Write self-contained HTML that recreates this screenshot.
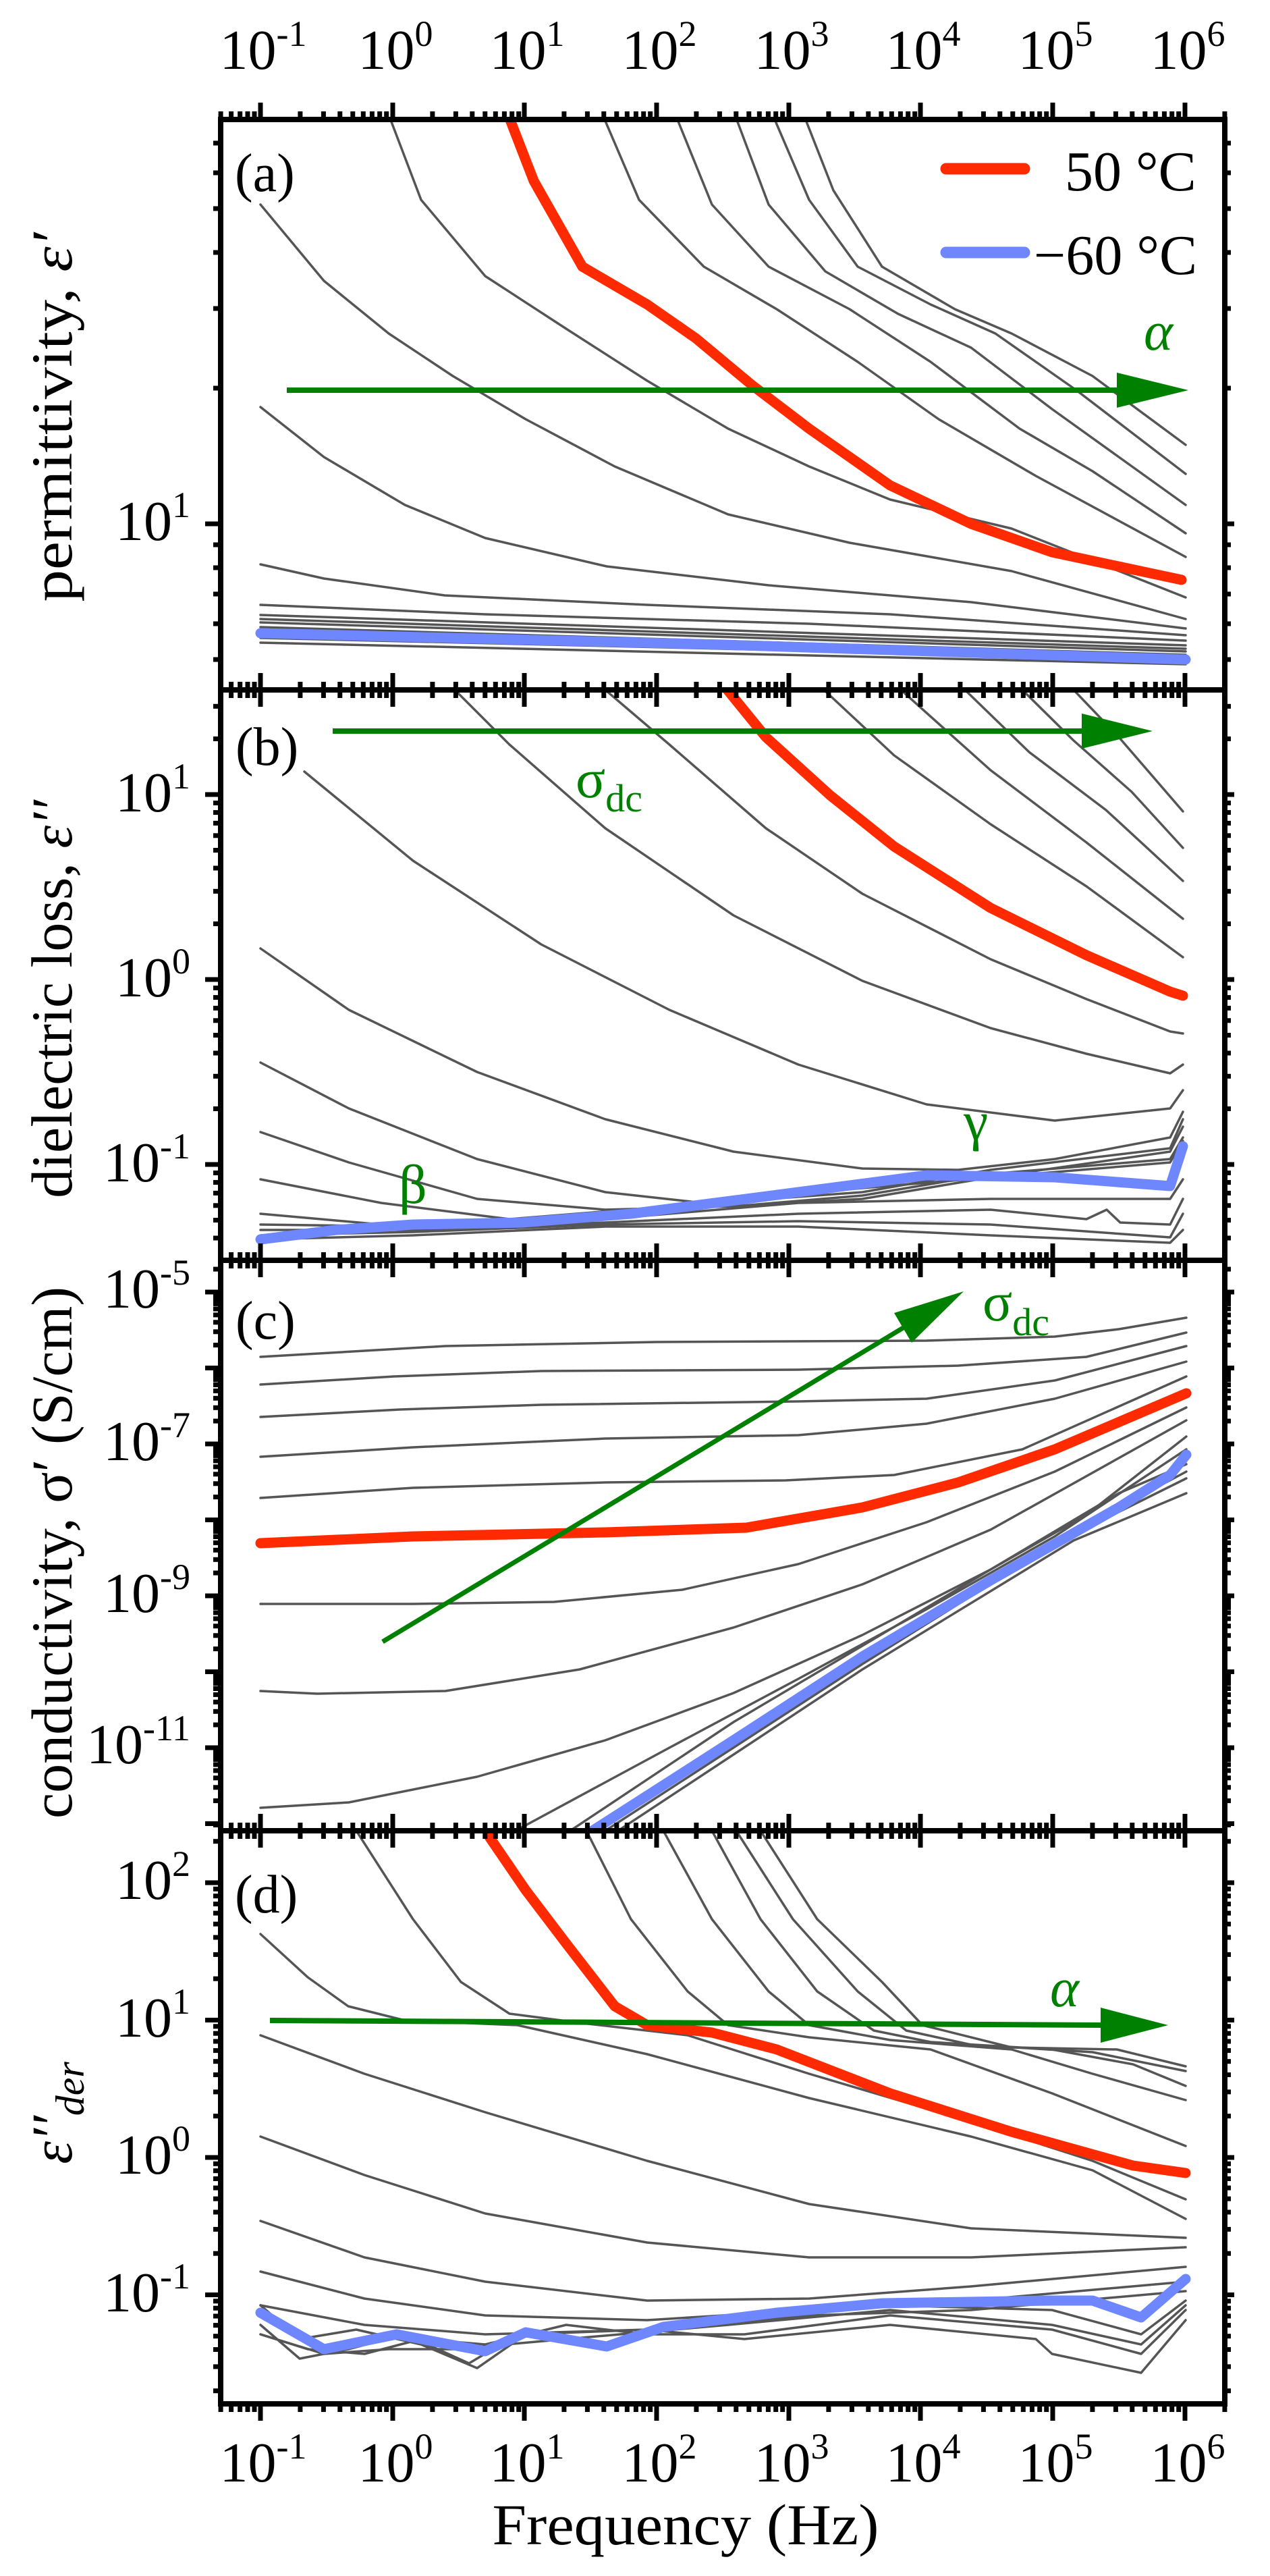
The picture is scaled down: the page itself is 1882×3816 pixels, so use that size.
<!DOCTYPE html>
<html><head><meta charset="utf-8">
<style>
html,body{margin:0;padding:0;background:#fff}
svg{display:block}
text{font-family:"Liberation Serif",serif}
.g{fill:none;stroke:#555;stroke-width:3.5;stroke-linejoin:round;stroke-linecap:round}
.r{fill:none;stroke:#ff2a00;stroke-width:15;stroke-linejoin:round;stroke-linecap:round}
.bl{fill:none;stroke:#6e87ff;stroke-width:15;stroke-linejoin:round;stroke-linecap:round}
.t line{stroke:#000;stroke-width:7}
</style></head>
<body>
<svg width="1882" height="3816" viewBox="0 0 1882 3816" xmlns="http://www.w3.org/2000/svg" xmlns:xlink="http://www.w3.org/1999/xlink">
<defs>
<clipPath id="ca"><rect x="327" y="177" width="1488" height="845"/></clipPath>
<clipPath id="cb"><rect x="327" y="1022" width="1488" height="845"/></clipPath>
<clipPath id="cc"><rect x="327" y="1867" width="1488" height="845"/></clipPath>
<clipPath id="cd"><rect x="327" y="2712" width="1488" height="849"/></clipPath>
<clipPath id="cxm"><rect x="322" y="0" width="1498" height="3816"/></clipPath>
<clipPath id="cxt"><rect x="322" y="140" width="1498" height="37"/></clipPath>
<clipPath id="cxb"><rect x="322" y="3561" width="1498" height="40"/></clipPath>
<clipPath id="tyb"><rect x="280" y="1027" width="1580" height="835"/></clipPath>
<clipPath id="tyc"><rect x="280" y="1872" width="1580" height="835"/></clipPath>
<clipPath id="tyd"><rect x="280" y="2717" width="1580" height="839"/></clipPath>
<g id="xt" class="t">
<line x1="0" y1="-25" x2="0" y2="25"/>
<line x1="58.9" y1="-12" x2="58.9" y2="12"/><line x1="93.4" y1="-12" x2="93.4" y2="12"/>
<line x1="117.8" y1="-12" x2="117.8" y2="12"/><line x1="136.8" y1="-12" x2="136.8" y2="12"/>
<line x1="152.3" y1="-12" x2="152.3" y2="12"/><line x1="165.4" y1="-12" x2="165.4" y2="12"/>
<line x1="176.7" y1="-12" x2="176.7" y2="12"/><line x1="186.7" y1="-12" x2="186.7" y2="12"/>
</g>
<g id="xrow">
<use href="#xt" xlink:href="#xt" x="190.3"/><use href="#xt" xlink:href="#xt" x="386"/>
<use href="#xt" xlink:href="#xt" x="582"/><use href="#xt" xlink:href="#xt" x="777"/>
<use href="#xt" xlink:href="#xt" x="973"/><use href="#xt" xlink:href="#xt" x="1169"/>
<use href="#xt" xlink:href="#xt" x="1364"/><use href="#xt" xlink:href="#xt" x="1560"/>
<use href="#xt" xlink:href="#xt" x="1756"/>
</g>
<g id="yb" class="t">
<line x1="304" y1="0" x2="327" y2="0"/><line x1="1815" y1="0" x2="1829" y2="0"/>
<line x1="316" y1="-82.5" x2="327" y2="-82.5"/><line x1="316" y1="-130.7" x2="327" y2="-130.7"/><line x1="316" y1="-165" x2="327" y2="-165"/><line x1="316" y1="-191.5" x2="327" y2="-191.5"/><line x1="316" y1="-213.2" x2="327" y2="-213.2"/><line x1="316" y1="-231.6" x2="327" y2="-231.6"/><line x1="316" y1="-247.4" x2="327" y2="-247.4"/><line x1="316" y1="-261.5" x2="327" y2="-261.5"/>
<line x1="1815" y1="-82.5" x2="1824" y2="-82.5"/><line x1="1815" y1="-130.7" x2="1824" y2="-130.7"/><line x1="1815" y1="-165" x2="1824" y2="-165"/><line x1="1815" y1="-191.5" x2="1824" y2="-191.5"/><line x1="1815" y1="-213.2" x2="1824" y2="-213.2"/><line x1="1815" y1="-231.6" x2="1824" y2="-231.6"/><line x1="1815" y1="-247.4" x2="1824" y2="-247.4"/><line x1="1815" y1="-261.5" x2="1824" y2="-261.5"/>
</g>
<g id="yc" class="t">
<line x1="304" y1="0" x2="327" y2="0"/><line x1="1815" y1="0" x2="1829" y2="0"/>
<line x1="316" y1="-33.9" x2="327" y2="-33.9"/><line x1="316" y1="-53.7" x2="327" y2="-53.7"/><line x1="316" y1="-67.7" x2="327" y2="-67.7"/><line x1="316" y1="-78.6" x2="327" y2="-78.6"/><line x1="316" y1="-87.5" x2="327" y2="-87.5"/><line x1="316" y1="-95.1" x2="327" y2="-95.1"/><line x1="316" y1="-101.6" x2="327" y2="-101.6"/><line x1="316" y1="-107.3" x2="327" y2="-107.3"/>
<line x1="1815" y1="-33.9" x2="1824" y2="-33.9"/><line x1="1815" y1="-53.7" x2="1824" y2="-53.7"/><line x1="1815" y1="-67.7" x2="1824" y2="-67.7"/><line x1="1815" y1="-78.6" x2="1824" y2="-78.6"/><line x1="1815" y1="-87.5" x2="1824" y2="-87.5"/><line x1="1815" y1="-95.1" x2="1824" y2="-95.1"/><line x1="1815" y1="-101.6" x2="1824" y2="-101.6"/><line x1="1815" y1="-107.3" x2="1824" y2="-107.3"/>
</g>
<g id="yd" class="t">
<line x1="304" y1="0" x2="327" y2="0"/><line x1="1815" y1="0" x2="1829" y2="0"/>
<line x1="316" y1="-61.3" x2="327" y2="-61.3"/><line x1="316" y1="-97.1" x2="327" y2="-97.1"/><line x1="316" y1="-122.5" x2="327" y2="-122.5"/><line x1="316" y1="-142.3" x2="327" y2="-142.3"/><line x1="316" y1="-158.4" x2="327" y2="-158.4"/><line x1="316" y1="-172" x2="327" y2="-172"/><line x1="316" y1="-183.8" x2="327" y2="-183.8"/><line x1="316" y1="-194.2" x2="327" y2="-194.2"/>
<line x1="1815" y1="-61.3" x2="1824" y2="-61.3"/><line x1="1815" y1="-97.1" x2="1824" y2="-97.1"/><line x1="1815" y1="-122.5" x2="1824" y2="-122.5"/><line x1="1815" y1="-142.3" x2="1824" y2="-142.3"/><line x1="1815" y1="-158.4" x2="1824" y2="-158.4"/><line x1="1815" y1="-172" x2="1824" y2="-172"/><line x1="1815" y1="-183.8" x2="1824" y2="-183.8"/><line x1="1815" y1="-194.2" x2="1824" y2="-194.2"/>
</g>
</defs>
<rect x="0" y="0" width="1882" height="3816" fill="#fff"/>

<!-- PANEL A -->
<g clip-path="url(#ca)">
<polyline class="g" points="1191,170 1235,282 1307,395 1415,458 1499,494 1619,557 1757,659"/>
<polyline class="g" points="1145,170 1199,296 1271,395 1379,451 1475,494 1595,578 1757,702"/>
<polyline class="g" points="1089,170 1139,303 1223,402 1331,465 1439,515 1559,606 1757,748"/>
<polyline class="g" points="1001,170 1055,303 1139,395 1259,458 1379,536 1511,635 1619,698 1757,790"/>
<polyline class="g" points="893,170 947,296 1043,395 1151,458 1271,536 1391,621 1535,705 1757,825"/>
<polyline class="g" points="576,170 624,296 719,409 839,487 959,564 1079,635 1199,691 1319,740 1499,783 1757,885"/>
<polyline class="g" points="386,303 480,416 576,494 671,557 779,621 911,691 1079,762 1259,804 1499,846 1757,917"/>
<polyline class="g" points="386,603 480,677 600,748 719,797 899,839 1139,867 1439,892 1757,931"/>
<polyline class="g" points="386,836 480,857 659,882 959,896 1319,910 1757,941"/>
<polyline class="g" points="386,896 719,910 1199,924 1757,949"/>
<polyline class="g" points="386,911 1757,956"/>
<polyline class="g" points="386,917 1757,961"/>
<polyline class="g" points="386,922 1757,965"/>
<polyline class="g" points="386,929 1757,970"/>
<polyline class="g" points="386,945 1757,977"/>
<polyline class="g" points="386,952 1757,984"/>
<polyline class="bl" points="386,938 1070,955 1757,977"/>
<polyline class="r" points="753,170 791,268 863,395 959,451 1031,501 1115,571 1199,635 1319,719 1439,776 1559,818 1751,859"/>
</g>

<!-- PANEL B -->
<g clip-path="url(#cb)">
<polyline class="g" points="1591,1022 1658,1092 1753,1202"/>
<polyline class="g" points="1515,1022 1591,1097 1677,1173 1753,1256"/>
<polyline class="g" points="1430,1022 1525,1114 1639,1200 1753,1305"/>
<polyline class="g" points="1335,1022 1468,1141 1610,1248 1753,1361"/>
<polyline class="g" points="1221,1022 1325,1119 1468,1221 1610,1313 1753,1418"/>
<polyline class="g" points="897,1022 992,1103 1135,1227 1278,1324 1468,1421 1610,1480 1734,1528 1753,1531"/>
<polyline class="g" points="674,1022 755,1103 897,1227 1087,1356 1278,1453 1468,1523 1610,1561 1734,1590 1753,1577"/>
<polyline class="g" points="451,1143 612,1275 802,1399 992,1496 1183,1577 1373,1636 1563,1660 1734,1642 1753,1615"/>
<polyline class="g" points="386,1405 517,1496 707,1588 897,1658 1087,1706 1278,1731 1420,1733 1563,1717 1734,1685 1753,1647"/>
<polyline class="g" points="386,1574 517,1642 707,1717 897,1766 1087,1787 1278,1776 1468,1744 1734,1706 1753,1669"/>
<polyline class="g" points="386,1677 517,1722 707,1776 897,1792 1087,1787 1278,1771 1468,1739 1734,1717 1753,1685"/>
<polyline class="g" points="386,1747 565,1782 755,1806 992,1787 1278,1766 1468,1733 1734,1701 1753,1658"/>
<polyline class="g" points="386,1798 565,1814 755,1809 992,1787 1278,1760 1734,1722 1753,1690"/>
<polyline class="g" points="386,1814 612,1817 897,1806 1183,1782 1468,1776 1734,1776 1753,1747"/>
<polyline class="g" points="386,1822 612,1822 897,1811 1183,1798 1468,1792 1610,1806 1640,1792 1660,1811 1734,1814 1753,1776"/>
<polyline class="g" points="386,1830 612,1825 897,1814 1183,1809 1468,1814 1734,1833 1753,1798"/>
<polyline class="g" points="386,1836 612,1830 897,1817 1183,1817 1468,1830 1734,1841 1753,1822"/>
<polyline class="bl" points="386,1836 498,1822 612,1814 774,1811 935,1798 1183,1766 1373,1741 1563,1744 1734,1757 1753,1698"/>
<polyline class="r" points="1078,1022 1135,1092 1230,1178 1325,1254 1468,1345 1610,1415 1734,1469 1753,1475"/>
</g>

<!-- PANEL C -->
<g clip-path="url(#cc)">
<polyline class="g" points="386,2010 660,1994 973,1988 1373,1986 1563,1980 1658,1969 1758,1952"/>
<polyline class="g" points="386,2051 584,2039 802,2031 1183,2029 1420,2023 1610,2010 1758,1974"/>
<polyline class="g" points="386,2099 593,2088 802,2081 1183,2076 1373,2072 1563,2045 1758,1994"/>
<polyline class="g" points="386,2158 612,2144 897,2131 1183,2126 1373,2109 1563,2072 1758,2017"/>
<polyline class="g" points="386,2219 612,2204 897,2196 1164,2193 1325,2185 1515,2147 1758,2039"/>
<polyline class="g" points="386,2376 612,2376 821,2373 1011,2355 1183,2317 1373,2255 1563,2180 1758,2085"/>
<polyline class="g" points="386,2505 470,2509 660,2505 859,2473 1087,2411 1278,2347 1468,2266 1758,2104"/>
<polyline class="g" points="386,2678 517,2670 707,2632 897,2578 1087,2508 1278,2422 1468,2325 1610,2244 1758,2128"/>
<polyline class="g" points="764,2712 992,2589 1183,2487 1373,2384 1563,2276 1758,2147"/>
<polyline class="g" points="845,2712 1087,2551 1278,2438 1468,2325 1658,2212 1758,2169"/>
<polyline class="g" points="897,2712 1278,2465 1563,2287 1758,2190"/>
<polyline class="g" points="916,2712 1278,2473 1591,2282 1758,2212"/>
<polyline class="g" points="888,2712 1278,2460 1515,2309 1758,2180"/>
<polyline class="bl" points="878,2712 1087,2578 1278,2454 1468,2341 1658,2233 1734,2185 1758,2155"/>
<polyline class="r" points="386,2286 612,2276 897,2270 1106,2263 1278,2233 1420,2196 1563,2147 1758,2064"/>
</g>

<!-- PANEL D -->
<g clip-path="url(#cd)">
<polyline class="g" points="869,2712 935,2843 1019,2950 1079,3000 1199,3018 1379,3036 1559,3101 1757,3179"/>
<polyline class="g" points="983,2712 1055,2843 1139,2950 1199,3000 1319,3022 1499,3036 1619,3072 1757,3111"/>
<polyline class="g" points="1055,2712 1127,2843 1211,2950 1295,3008 1379,3025 1559,3036 1679,3058 1757,3090"/>
<polyline class="g" points="1091,2712 1175,2843 1271,2950 1343,3008 1439,3029 1619,3040 1757,3068"/>
<polyline class="g" points="1127,2712 1211,2843 1307,2936 1367,3000 1499,3033 1655,3036 1757,3061"/>
<polyline class="g" points="528,2712 612,2843 683,2936 755,2983 863,2997 1019,3015 1199,3072 1439,3143 1619,3201 1757,3258"/>
<polyline class="g" points="386,2865 456,2929 516,2972 600,2993 767,3000 959,3043 1199,3108 1439,3165 1619,3215 1757,3287"/>
<polyline class="g" points="386,3015 540,3072 719,3129 959,3201 1199,3265 1439,3301 1757,3315"/>
<polyline class="g" points="386,3165 540,3222 719,3279 959,3322 1199,3344 1439,3344 1757,3329"/>
<polyline class="g" points="386,3290 540,3344 719,3380 959,3408 1199,3405 1439,3387 1757,3358"/>
<polyline class="g" points="386,3365 540,3405 719,3430 959,3437 1199,3422 1439,3408 1757,3380"/>
<polyline class="g" points="386,3415 540,3444 719,3458 959,3451 1199,3430 1439,3422 1757,3394"/>
<polyline class="g" points="386,3444 444,3494 516,3480 600,3458 695,3501 779,3451 899,3473 983,3444 1151,3430 1319,3415 1559,3422 1691,3458 1757,3408"/>
<polyline class="g" points="386,3458 456,3480 540,3487 624,3465 719,3473 839,3444 959,3458 1103,3458 1319,3430 1559,3451 1691,3487 1757,3422"/>
<polyline class="g" points="386,3415 444,3465 528,3451 624,3473 707,3508 779,3458 959,3451 1103,3465 1319,3444 1535,3465 1559,3487 1691,3515 1757,3437"/>
<polyline class="g" points="386,3458 480,3487 576,3480 671,3480 839,3465 1079,3444 1319,3422 1559,3444 1691,3473 1757,3415"/>
<polyline class="bl" points="386,3426 480,3480 588,3458 719,3483 779,3455 899,3476 983,3447 1151,3426 1307,3412 1559,3408 1619,3408 1691,3433 1757,3376"/>
<polyline class="r" points="725,2721 779,2800 839,2879 911,2972 959,3000 1055,3011 1151,3036 1319,3101 1499,3158 1679,3208 1757,3219"/>
</g>

<!-- green annotations -->
<g fill="#008000" stroke="none">
<line x1="425" y1="578" x2="1660" y2="578" stroke="#008000" stroke-width="8"/>
<polygon points="1655,552 1761,578 1655,604"/>
<line x1="493" y1="1083" x2="1608" y2="1083" stroke="#008000" stroke-width="8"/>
<polygon points="1603,1057 1708,1083 1603,1109"/>
<line x1="567" y1="2432" x2="1340" y2="1966" stroke="#008000" stroke-width="7"/>
<polygon points="1351,1989 1325,1945 1428,1913"/>
<line x1="400" y1="2993" x2="1636" y2="3000" stroke="#008000" stroke-width="8"/>
<polygon points="1631,2974 1731,3000 1631,3026"/>
<text x="1695" y="518" font-size="82" font-style="italic">α</text>
<text x="1556" y="2972" font-size="82" font-style="italic">α</text>
<text x="853" y="1181" font-size="82">σ<tspan font-size="58" dy="21">dc</tspan></text>
<text x="1456" y="1956" font-size="82">σ<tspan font-size="58" dy="22">dc</tspan></text>
<text x="591" y="1782" font-size="82">β</text>
<text x="1428" y="1688" font-size="82">γ</text>
</g>

<!-- frames -->
<g fill="none" stroke="#000" stroke-width="8">
<rect x="327" y="177" width="1488" height="845"/>
<rect x="327" y="1022" width="1488" height="845"/>
<rect x="327" y="1867" width="1488" height="845"/>
<rect x="327" y="2712" width="1488" height="849"/>
</g>

<!-- x ticks -->
<g clip-path="url(#cxt)"><use href="#xrow" xlink:href="#xrow" y="177"/></g>
<g clip-path="url(#cxm)">
<use href="#xrow" xlink:href="#xrow" y="1022"/>
<use href="#xrow" xlink:href="#xrow" y="1867"/>
<use href="#xrow" xlink:href="#xrow" y="2712"/>
</g>
<g clip-path="url(#cxb)"><use href="#xrow" xlink:href="#xrow" y="3561"/></g>

<!-- y ticks panel a -->
<g class="t">
<line x1="304" y1="776" x2="327" y2="776"/><line x1="1815" y1="776" x2="1829" y2="776"/>
<line x1="316" y1="977" x2="327" y2="977"/><line x1="316" y1="924" x2="327" y2="924"/><line x1="316" y1="880" x2="327" y2="880"/><line x1="316" y1="841" x2="327" y2="841"/><line x1="316" y1="807" x2="327" y2="807"/>
<line x1="316" y1="575" x2="327" y2="575"/><line x1="316" y1="457" x2="327" y2="457"/><line x1="316" y1="374" x2="327" y2="374"/><line x1="316" y1="309" x2="327" y2="309"/><line x1="316" y1="256" x2="327" y2="256"/><line x1="316" y1="212" x2="327" y2="212"/>
<line x1="1815" y1="977" x2="1824" y2="977"/><line x1="1815" y1="924" x2="1824" y2="924"/><line x1="1815" y1="880" x2="1824" y2="880"/><line x1="1815" y1="841" x2="1824" y2="841"/><line x1="1815" y1="807" x2="1824" y2="807"/>
<line x1="1815" y1="575" x2="1824" y2="575"/><line x1="1815" y1="457" x2="1824" y2="457"/><line x1="1815" y1="374" x2="1824" y2="374"/><line x1="1815" y1="309" x2="1824" y2="309"/><line x1="1815" y1="256" x2="1824" y2="256"/><line x1="1815" y1="212" x2="1824" y2="212"/>
</g>
<g clip-path="url(#tyb)">
<use href="#yb" xlink:href="#yb" y="1177"/><use href="#yb" xlink:href="#yb" y="1451"/><use href="#yb" xlink:href="#yb" y="1725"/><use href="#yb" xlink:href="#yb" y="1999"/>
</g>
<g clip-path="url(#tyc)">
<use href="#yc" xlink:href="#yc" y="1914"/><use href="#yc" xlink:href="#yc" y="2026.5"/><use href="#yc" xlink:href="#yc" y="2139"/><use href="#yc" xlink:href="#yc" y="2251.5"/>
<use href="#yc" xlink:href="#yc" y="2364"/><use href="#yc" xlink:href="#yc" y="2476.5"/><use href="#yc" xlink:href="#yc" y="2589"/><use href="#yc" xlink:href="#yc" y="2701.5"/><use href="#yc" xlink:href="#yc" y="2814"/>
</g>
<g clip-path="url(#tyd)">
<use href="#yd" xlink:href="#yd" y="2789"/><use href="#yd" xlink:href="#yd" y="2992.5"/><use href="#yd" xlink:href="#yd" y="3196"/><use href="#yd" xlink:href="#yd" y="3399.5"/><use href="#yd" xlink:href="#yd" y="3603"/>
</g>

<!-- panel labels -->
<g font-size="80" fill="#000">
<text x="348" y="283">(a)</text>
<text x="349" y="1133">(b)</text>
<text x="349" y="1983">(c)</text>
<text x="348" y="2833">(d)</text>
</g>

<!-- legend -->
<line x1="1402" y1="250" x2="1518" y2="250" stroke="#ff2a00" stroke-width="17" stroke-linecap="round"/>
<line x1="1402" y1="374" x2="1518" y2="374" stroke="#6e87ff" stroke-width="17" stroke-linecap="round"/>
<text x="1578" y="282" font-size="84">50 °C</text>
<text x="1532" y="406" font-size="84">−60 °C</text>

<!-- top tick labels -->
<g font-size="84" text-anchor="middle">
<text x="390" y="102">10<tspan font-size="54" dy="-34">-1</tspan></text>
<text x="586" y="102">10<tspan font-size="54" dy="-34">0</tspan></text>
<text x="781" y="102">10<tspan font-size="54" dy="-34">1</tspan></text>
<text x="977" y="102">10<tspan font-size="54" dy="-34">2</tspan></text>
<text x="1173" y="102">10<tspan font-size="54" dy="-34">3</tspan></text>
<text x="1368" y="102">10<tspan font-size="54" dy="-34">4</tspan></text>
<text x="1564" y="102">10<tspan font-size="54" dy="-34">5</tspan></text>
<text x="1760" y="102">10<tspan font-size="54" dy="-34">6</tspan></text>
</g>
<!-- bottom tick labels -->
<g font-size="84" text-anchor="middle">
<text x="390" y="3676">10<tspan font-size="54" dy="-34">-1</tspan></text>
<text x="586" y="3676">10<tspan font-size="54" dy="-34">0</tspan></text>
<text x="781" y="3676">10<tspan font-size="54" dy="-34">1</tspan></text>
<text x="977" y="3676">10<tspan font-size="54" dy="-34">2</tspan></text>
<text x="1173" y="3676">10<tspan font-size="54" dy="-34">3</tspan></text>
<text x="1368" y="3676">10<tspan font-size="54" dy="-34">4</tspan></text>
<text x="1564" y="3676">10<tspan font-size="54" dy="-34">5</tspan></text>
<text x="1760" y="3676">10<tspan font-size="54" dy="-34">6</tspan></text>
</g>
<!-- left tick labels -->
<g font-size="84" text-anchor="end">
<text x="282" y="800">10<tspan font-size="54" dy="-34">1</tspan></text>
<text x="282" y="1202">10<tspan font-size="54" dy="-34">1</tspan></text>
<text x="282" y="1476">10<tspan font-size="54" dy="-34">0</tspan></text>
<text x="282" y="1750">10<tspan font-size="54" dy="-34">-1</tspan></text>
<text x="282" y="1937">10<tspan font-size="54" dy="-34">-5</tspan></text>
<text x="282" y="2163">10<tspan font-size="54" dy="-34">-7</tspan></text>
<text x="282" y="2388">10<tspan font-size="54" dy="-34">-9</tspan></text>
<text x="282" y="2612">10<tspan font-size="54" dy="-34">-11</tspan></text>
<text x="282" y="2813">10<tspan font-size="54" dy="-34">2</tspan></text>
<text x="282" y="3017">10<tspan font-size="54" dy="-34">1</tspan></text>
<text x="282" y="3220">10<tspan font-size="54" dy="-34">0</tspan></text>
<text x="282" y="3424">10<tspan font-size="54" dy="-34">-1</tspan></text>
</g>

<!-- axis titles -->
<g font-size="86" text-anchor="middle">
<text transform="translate(106,618) rotate(-90)" textLength="547" lengthAdjust="spacingAndGlyphs">permittivity, <tspan font-style="italic">ε′</tspan></text>
<text transform="translate(106,1480) rotate(-90)">dielectric loss, <tspan font-style="italic">ε′′</tspan></text>
<text transform="translate(106,2300) rotate(-90)">conductivity, σ′ (S/cm)</text>
<text transform="translate(106,3130) rotate(-90)"><tspan font-style="italic">ε′′</tspan><tspan font-style="italic" font-size="60" dy="18">der</tspan></text>
<text x="1016" y="3769" textLength="573" lengthAdjust="spacingAndGlyphs">Frequency (Hz)</text>
</g>
</svg>
</body></html>
